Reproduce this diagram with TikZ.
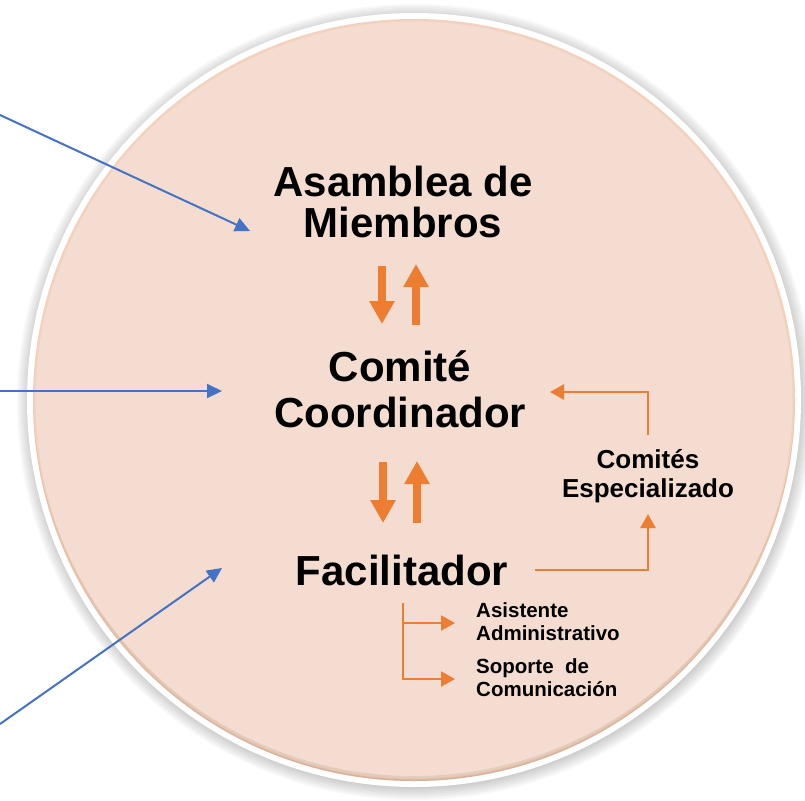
\documentclass[tikz,border=0pt]{standalone}
\usepackage{fontspec}
\setmainfont{Liberation Sans}
\usetikzlibrary{arrows.meta}
\definecolor{peach}{HTML}{F4DDD0}
\definecolor{orng}{HTML}{ED7D31}
\definecolor{blu}{HTML}{4472C4}
\definecolor{bevel}{HTML}{B89A88}
\begin{document}
\begin{tikzpicture}[x=1pt,y=-1pt,
  bigtext/.style={font=\fontsize{42}{40}\selectfont\bfseries, align=center, inner sep=0pt},
  midtext/.style={font=\fontsize{26}{29}\selectfont\bfseries, align=center, inner sep=0pt},
  smalltext/.style={font=\fontsize{20.5}{23}\selectfont\bfseries, align=left, inner sep=0pt},
  bluearrow/.style={draw=blu, line width=2pt, -{Triangle[length=15pt,width=14pt]}},
  fatarrow/.style={draw=orng, line width=8pt, -{Triangle[length=23pt,width=24pt]}},
  thinarrow/.style={draw=orng, line width=2.5pt, -{Triangle[length=14pt,width=15pt]}}]
\useasboundingbox (0,0) rectangle (805,800);
\coordinate (c) at (414,400);
% shadow
\foreach \r in {386,388,...,398} \fill[black,opacity=0.03] (415,402) circle[radius=\r pt];
% white ring and disc
\fill[white] (c) circle[radius=387pt];
\fill[peach] (c) circle[radius=381pt];
\begin{scope}
  \clip (c) circle[radius=381pt];
  \draw[bevel, opacity=0.25, line width=8pt] (414,395) circle[radius=385pt];
  \draw[bevel, opacity=0.35, line width=3pt] (414,397) circle[radius=384pt];
  \draw[orng, opacity=0.12, line width=3pt] (c) circle[radius=380pt];
\end{scope}
% main texts
\node[bigtext, anchor=base, font=\fontsize{42}{40.5}\selectfont\bfseries] (asam) at (403,237) {Asamblea de\\Miembros};
\node[bigtext, anchor=base, font=\fontsize{42}{46}\selectfont\bfseries] (comite) at (400,427) {Comité\\Coordinador};
\node[bigtext, anchor=base] (facil) at (402,585) {Facilitador};
\node[midtext, anchor=base] (espec) at (648,497) {Comités\\Especializado};
\node[smalltext, anchor=base west] (asist) at (476,640) {Asistente\\Administrativo};
\node[smalltext, anchor=base west] (sopor) at (476,696) {Soporte~~de\\Comunicación};
% thick arrows
\coordinate (d1a) at (382,266); \coordinate (d1b) at (382,324);
\coordinate (u1a) at (416,325); \coordinate (u1b) at (416,264);
\coordinate (d2a) at (383,462); \coordinate (d2b) at (383,523);
\coordinate (u2a) at (417,523); \coordinate (u2b) at (417,461);
\draw[fatarrow] (d1a) -- (d1b);
\draw[fatarrow] (u1a) -- (u1b);
\draw[fatarrow] (d2a) -- (d2b);
\draw[fatarrow] (u2a) -- (u2b);
% right loop
\coordinate (e1) at (648,435); \coordinate (e2) at (550,392);
\coordinate (f1) at (535,570); \coordinate (f2) at (648,514);
\draw[thinarrow] (e1) |- (e2);
\draw[thinarrow] (f1) -| (f2);
% bracket
\coordinate (g0) at (403,603); \coordinate (g1) at (403,623);
\coordinate (h1) at (455,623); \coordinate (h2) at (455,679);
\draw[thinarrow] (g0) |- (h2);
\draw[thinarrow] (g1) -- (h1);
% blue arrows
\coordinate (s1) at (0,115); \coordinate (t1) at (250,231);
\coordinate (s2) at (0,391); \coordinate (t2) at (222,391);
\coordinate (s3) at (0,724); \coordinate (t3) at (222,568);
\draw[bluearrow] (s1) -- (t1);
\draw[bluearrow] (s2) -- (t2);
\draw[bluearrow] (s3) -- (t3);
\end{tikzpicture}
\end{document}
